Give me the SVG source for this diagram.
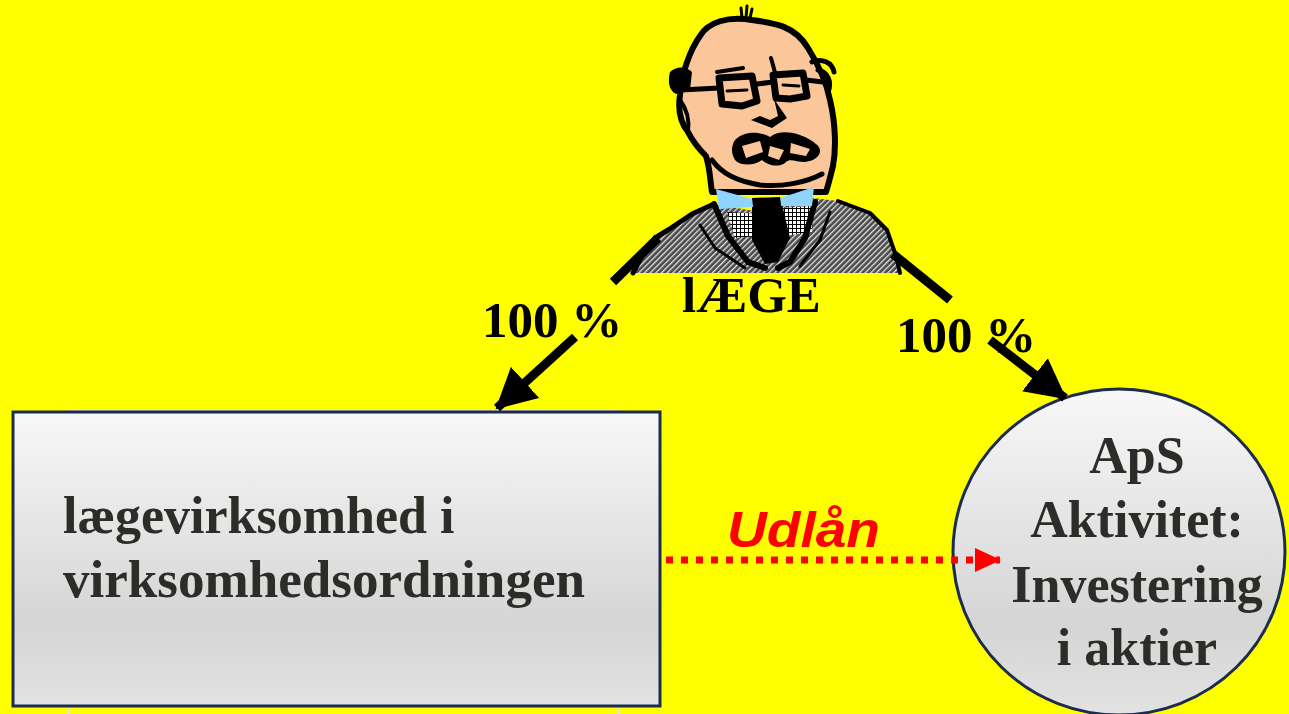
<svg xmlns="http://www.w3.org/2000/svg" width="1289" height="714" viewBox="0 0 1289 714">
  <defs>
    <linearGradient id="boxFill" x1="0" y1="0" x2="0" y2="1">
      <stop offset="0" stop-color="#f8f8f8"/>
      <stop offset="0.72" stop-color="#d5d5d5"/>
      <stop offset="1" stop-color="#e2e2e2"/>
    </linearGradient>
    <pattern id="hatch" width="4" height="4" patternUnits="userSpaceOnUse" patternTransform="rotate(45)">
      <rect width="4" height="4" fill="#4a4a4a"/>
      <rect x="0" y="0" width="1.3" height="4" fill="#e6e6e6"/>
    </pattern>
    <pattern id="check" width="4" height="4" patternUnits="userSpaceOnUse">
      <rect width="4" height="4" fill="#ffffff"/>
      <path d="M0 0.5H4M0.5 0V4" stroke="#000" stroke-width="1"/>
    </pattern>
    <marker id="redHead" markerWidth="26" markerHeight="24" refX="25" refY="12" orient="auto" markerUnits="userSpaceOnUse">
      <path d="M0 0L26 12L0 24Z" fill="#ff0000"/>
    </marker>
    <marker id="blackHead" markerWidth="40" markerHeight="42" refX="38" refY="21" orient="auto" markerUnits="userSpaceOnUse">
      <path d="M0 0L40 21L0 42Z" fill="#000"/>
    </marker>
  </defs>
  <style>
    .serif { font-family: "Liberation Serif", "Times New Roman", serif; font-weight: bold; }
    .label { font-size: 51px; fill: #000; }
    .node-text { font-size: 52px; fill: #2c2c28; }
    .outline { stroke: #1c2c4c; stroke-width: 3; fill: url(#boxFill); }
    .ink { stroke: #000; stroke-linecap: round; stroke-linejoin: round; fill: none; }
  </style>

  <rect width="1289" height="714" fill="#ffff00"/>

  <!-- the doctor -->
  <g id="doctor">
    <!-- jacket -->
    <path d="M633 273 L645 250 L655 238 L668 230 L692 214 L714 204 L760 212 L813 198 L838 201 L870 213 L887 230 L896 256 L900 273 Z" fill="url(#hatch)"/>
    <path class="ink" stroke-width="5" d="M633 273 L645 250 L655 238 L668 230 L692 214 L714 204"/>
    <path class="ink" stroke-width="4" d="M838 201 L870 213 L887 230 L896 256 L900 273"/>
    <!-- shirt and tie -->
    <path d="M727 212 L760 214 L758 236 L735 238 Z" fill="url(#check)"/>
    <path d="M780 208 L813 206 L812 232 L785 236 Z" fill="url(#check)"/>
    <path d="M752 205 L782 204 L790 238 L778 262 L765 264 L752 240 Z" fill="#000"/>
    <path class="ink" stroke-width="6" d="M714 204 L728 236 L748 262 L765 268"/>
    <path class="ink" stroke-width="6" d="M815 202 L805 238 L790 262 L778 268"/>
    <path class="ink" stroke-width="3" d="M700 225 L715 248 L745 268"/>
    <path class="ink" stroke-width="3" d="M830 212 L820 240 L800 266"/>
    <!-- head with neck -->
    <path d="M700 36 C708 22 728 16 752 20 C775 23 795 26 808 48 C818 64 826 80 830 100 C836 125 836 150 833 166 C830 178 828 186 826 192 L712 192 C710 180 710 168 706 156 C698 148 692 140 688 132 C680 122 678 108 680 95 C681 75 690 50 700 36 Z" fill="#fbc79a" stroke="#000" stroke-width="6" stroke-linejoin="round"/>
    <path class="ink" stroke-width="5" d="M712 160 C722 174 737 181 760 185 C782 187 805 183 822 174"/>
    <!-- hair -->
    <path class="ink" stroke-width="3" d="M742 18 L741 8 M746 18 L747 6 M750 18 L752 9"/>
    <path d="M670 72 C668 80 668 90 676 94 L690 90 L692 72 C686 66 676 66 670 72 Z" fill="#000"/>
    <path class="ink" stroke-width="5" d="M812 62 C822 58 832 62 834 72 M818 70 C828 72 832 82 828 92"/>
    <path class="ink" stroke-width="4" d="M680 100 C686 108 690 118 688 132"/>
    <!-- glasses -->
    <path class="ink" stroke-width="7" d="M719 78 L752 76 L757 101 L742 106 L722 104 Z"/>
    <path class="ink" stroke-width="7" d="M773 75 L803 73 L807 96 L790 99 L776 98 Z"/>
    <path class="ink" stroke-width="5" d="M757 84 L773 82 M719 88 L681 90 M806 80 L823 82"/>
    <path class="ink" stroke-width="3" d="M727 91 L747 90 M783 85 L799 86"/>
    <path class="ink" stroke-width="4" d="M717 72 L743 68 M771 58 L776 76"/>
    <!-- nose -->
    <path d="M774 99 L787 118 L772 128 L751 120 L760 116 L770 120 L778 116 Z" fill="#000"/>
    <!-- moustache -->
    <path d="M735 140 C742 132 758 130 770 137 C782 128 802 133 816 144 C824 150 820 160 805 162 C796 162 790 158 786 162 C780 168 768 166 762 160 C754 166 740 166 735 160 C731 153 731 146 735 140 Z" fill="#000"/>
    <path d="M742 146 L760 141 L763 152 L746 158 Z" fill="#fbc79a"/>
    <path d="M770 146 L784 150 L779 160 L768 156 Z" fill="#fbc79a"/>
    <path d="M791 143 L810 149 L806 156 L790 153 Z" fill="#fbc79a"/>
    <!-- bow tie -->
    <path d="M716 189 L752 199 L780 198 L814 187 L812 206 L780 206 L752 207 L719 209 Z" fill="#8fd4ff"/>
    <path d="M752 198 L780 197 L782 212 L754 214 Z" fill="#000"/>
  </g>

  <!-- labels -->
  <text class="serif label" x="682" y="312">lÆGE</text>
  <text class="serif label" x="482" y="337">100 %</text>
  <text class="serif label" x="896" y="352">100 %</text>

  <!-- left node -->
  <g id="node-praksis">
    <rect x="69" y="410" width="549" height="320" fill="none" stroke="#e4e4e4" stroke-width="2"/>
    <rect class="outline" x="13" y="412" width="647" height="294"/>
    <text class="serif node-text" x="63" y="533">lægevirksomhed i</text>
    <text class="serif node-text" x="63" y="597" textLength="522" lengthAdjust="spacingAndGlyphs">virksomhedsordningen</text>
  </g>

  <!-- right node -->
  <g id="node-aps">
    <ellipse class="outline" cx="1119" cy="552" rx="166" ry="163"/>
    <text class="serif node-text" text-anchor="middle" x="1137" y="473">ApS</text>
    <text class="serif node-text" text-anchor="middle" x="1137" y="537">Aktivitet:</text>
    <text class="serif node-text" text-anchor="middle" x="1137" y="602">Investering</text>
    <text class="serif node-text" text-anchor="middle" x="1137" y="665">i aktier</text>
  </g>

  <!-- connectors, drawn over the nodes -->
  <g id="connectors">
    <path d="M658 238 L613 282" stroke="#000" stroke-width="9" fill="none"/>
    <path d="M575 337 L497 408" stroke="#000" stroke-width="9" fill="none" marker-end="url(#blackHead)"/>
    <path d="M893 254 L950 300" stroke="#000" stroke-width="9" fill="none"/>
    <path d="M990 340 L1065 398" stroke="#000" stroke-width="9" fill="none" marker-end="url(#blackHead)"/>
    <line x1="666" y1="560" x2="1000" y2="560" stroke="#ff0000" stroke-width="7" stroke-dasharray="7 8" marker-end="url(#redHead)"/>
    <text x="727" y="547" font-family="'Liberation Sans', Arial, sans-serif" font-weight="bold" font-style="italic" font-size="50" fill="#ff0000" textLength="153" lengthAdjust="spacingAndGlyphs">Udlån</text>
  </g>
</svg>
